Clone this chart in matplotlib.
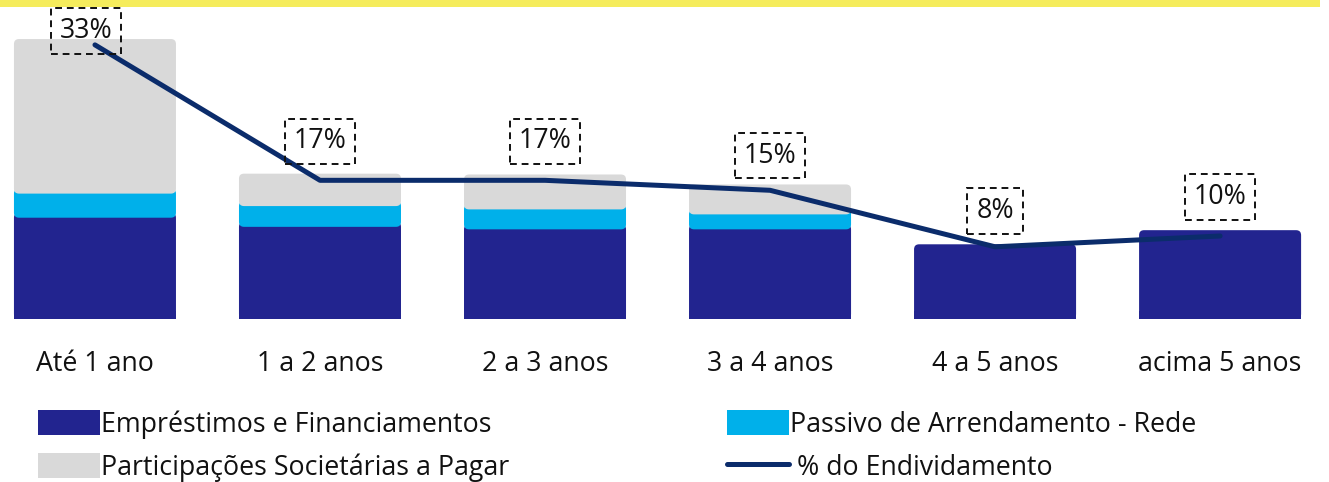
import numpy as np
import matplotlib
matplotlib.use("Agg")
import matplotlib.pyplot as plt
from matplotlib.patches import FancyBboxPatch, Patch, Rectangle
from matplotlib.lines import Line2D

# --- dados ---
categorias = ["Até 1 ano", "1 a 2 anos", "2 a 3 anos", "3 a 4 anos", "4 a 5 anos", "acima 5 anos"]
emprestimos = [12.8, 11.7, 11.4, 11.4, 9.0, 10.7]
arrendamento = [2.9, 2.5, 2.4, 1.8, 0.0, 0.0]
participacoes = [18.0, 3.3, 3.6, 3.0, 0.0, 0.0]
pct_endividamento = [33.0, 16.7, 16.7, 15.5, 8.7, 10.0]
pct_rotulos = ["33%", "17%", "17%", "15%", "8%", "10%"]

# --- estilo ---
COR_EMP = "#22248f"
COR_ARR = "#00b0ea"
COR_PART = "#d9d9d9"
COR_LINHA = "#0b2c6b"
FONTE = "Open Sans"
TAM = 19.3
LARGURA = 0.72
# deslocamento dos rótulos (pontos)
offsets = [(-6.5, 10), (0, 28), (0, 28), (0, 25), (0, 26), (0, 28)]

plt.rcParams["font.family"] = [FONTE, "DejaVu Sans"]

fig = plt.figure(figsize=(13.29, 4.82), dpi=100)
ax = fig.add_axes([0, 0.338, 1, 0.662])

x = np.arange(len(categorias))
ax.set_xlim(-0.422, 5.484)
ax.set_ylim(0, 38.4)

# fator de aspecto para cantos arredondados
px_x = 225.0
px_y = 8.3
raio_x = 5 / px_x
aspecto = px_x / px_y


def barra_arredondada(xc, base, altura, cor):
    p = FancyBboxPatch((xc - LARGURA / 2, base), LARGURA, altura,
                       boxstyle=f"round,pad=0,rounding_size={raio_x}",
                       mutation_aspect=aspecto, facecolor=cor, edgecolor="none",
                       zorder=2)
    ax.add_patch(p)


base = np.zeros(len(categorias))
for serie, cor in [(emprestimos, COR_EMP), (arrendamento, COR_ARR), (participacoes, COR_PART)]:
    for i, v in enumerate(serie):
        if v <= 0:
            continue
        # cobre cantos inferiores arredondados com o segmento de baixo
        extra = 0.6 if base[i] > 0 else 0
        barra_arredondada(x[i], base[i] - extra, v + extra, cor)
    base += np.array(serie)

# cantos inferiores retos na base
for i in x:
    ax.add_patch(Rectangle((i - LARGURA / 2, 0), LARGURA, 1.0, facecolor=COR_EMP,
                           edgecolor="none", zorder=2))

ax.plot(x, pct_endividamento, color=COR_LINHA, lw=3.6, solid_capstyle="round",
        solid_joinstyle="round", zorder=4)

for i, (v, rot) in enumerate(zip(pct_endividamento, pct_rotulos)):
    ax.annotate(rot, (x[i], v), xytext=offsets[i], textcoords="offset points",
                ha="center", va="center", fontsize=TAM, color="#111111", zorder=5,
                bbox=dict(boxstyle="square,pad=0.33", facecolor="none",
                          edgecolor="#111111", linestyle=(0, (3.5, 2.5)), linewidth=1.4))

ax.set_xticks(x)
ax.set_xticklabels(categorias, fontsize=TAM, color="#111111")
ax.tick_params(axis="x", length=0, pad=22)
ax.set_yticks([])
for s in ax.spines.values():
    s.set_visible(False)
ax.patch.set_alpha(0)

# faixa amarela do título
fig.add_artist(Rectangle((0, 1 - 7 / 482), 0.993, 7 / 482, transform=fig.transFigure,
                         facecolor="#f5ec5c", edgecolor="none"))

# legenda
h_emp = Patch(facecolor=COR_EMP, edgecolor="none")
h_arr = Patch(facecolor=COR_ARR, edgecolor="none")
h_part = Patch(facecolor=COR_PART, edgecolor="none")
h_lin = Line2D([0], [0], color=COR_LINHA, lw=3.6, solid_capstyle="round")

kw = dict(frameon=False, fontsize=TAM, handlelength=2.3, handleheight=1.05,
          handletextpad=0.05, labelspacing=0.55, borderpad=0, borderaxespad=0,
          labelcolor="#111111")
fig.legend([h_emp, h_part], ["Empréstimos e Financiamentos", "Participações Societárias a Pagar"],
           loc="upper left", bbox_to_anchor=(38 / 1329, 1 - 410 / 482), **kw)
fig.legend([h_arr, h_lin], ["Passivo de Arrendamento - Rede", " % do Endividamento"],
           loc="upper left", bbox_to_anchor=(727 / 1329, 1 - 410 / 482), **kw)

fig.savefig("out.png", dpi=100)
